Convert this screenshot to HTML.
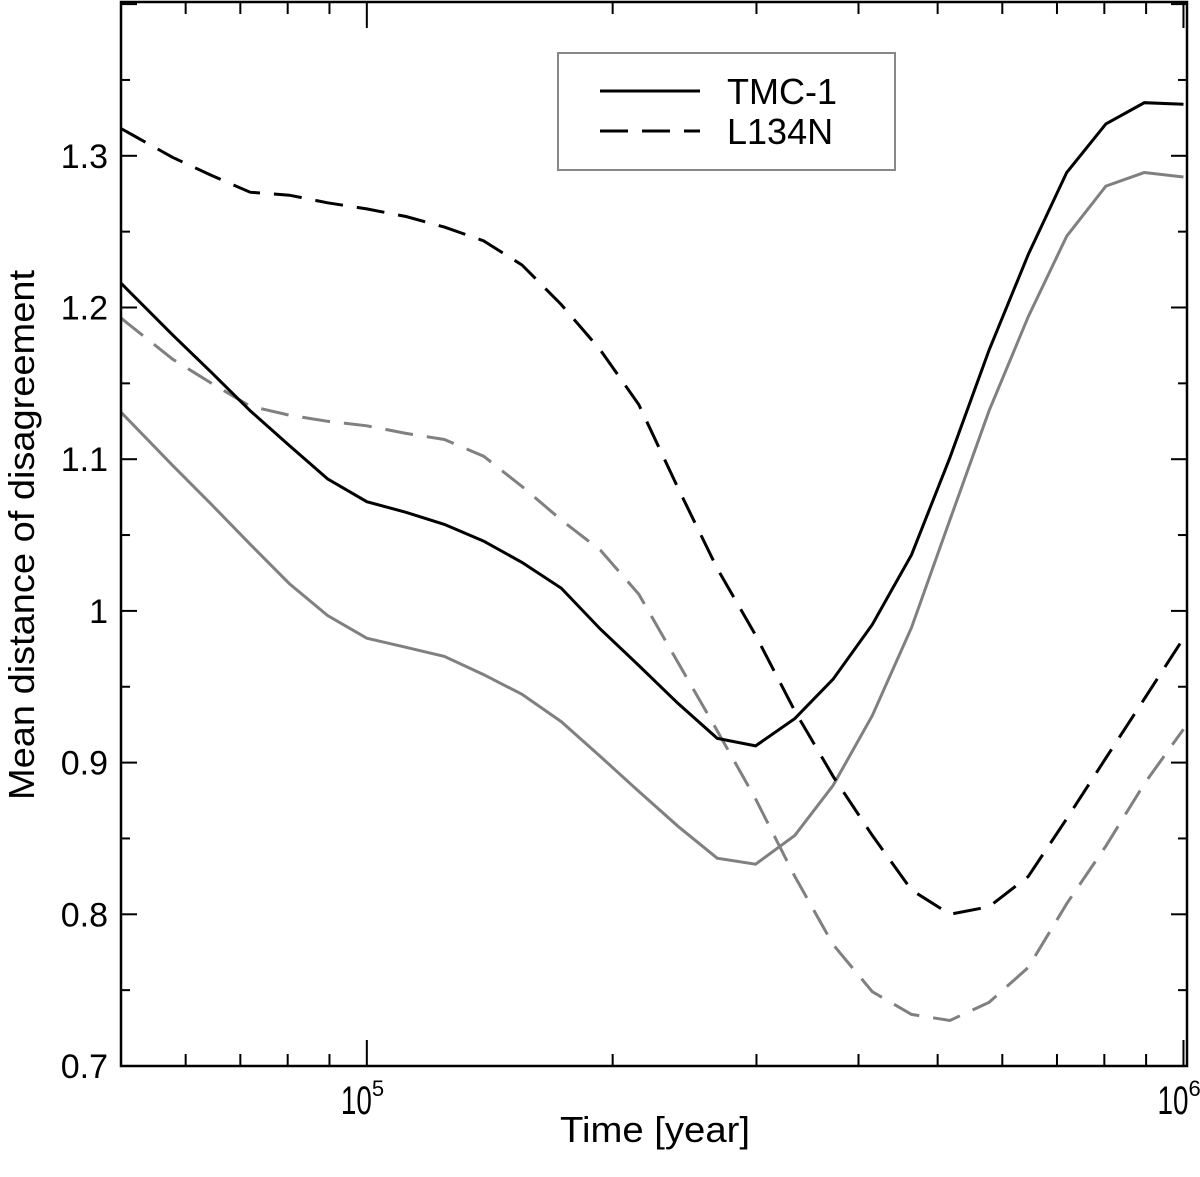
<!DOCTYPE html>
<html><head><meta charset="utf-8"><style>
body{margin:0;background:#fff;}
svg{display:block;font-family:"Liberation Sans",sans-serif;}
</style></head><body>
<svg id="chart" width="1200" height="1177" viewBox="0 0 1200 1177" xmlns="http://www.w3.org/2000/svg">
<g id="ticks"></g>
<g id="series"></g>
<rect x="121" y="2" width="1066" height="1064" fill="none" stroke="#000" stroke-width="2.5"/>
<g id="labels" font-size="34"></g>
<text x="655" y="1142" font-size="36" text-anchor="middle" textLength="190" lengthAdjust="spacingAndGlyphs">Time [year]</text>
<text transform="translate(34,535) rotate(-90)" font-size="36" text-anchor="middle" textLength="530" lengthAdjust="spacingAndGlyphs">Mean distance of disagreement</text>
<g>
<rect x="558" y="53" width="337" height="117" fill="#fff" stroke="#888" stroke-width="2"/>
<line x1="600" y1="91" x2="700" y2="91" stroke="#000" stroke-width="3"/>
<text x="727" y="104" font-size="36">TMC-1</text>
<line x1="600" y1="131" x2="700" y2="131" stroke="#000" stroke-width="3" stroke-dasharray="28,14"/>
<text x="727" y="144" font-size="36">L134N</text>
</g>
</svg>
<script>
const logTimes = [4.699,4.762,4.810,4.857,4.905,4.952,5.000,5.048,5.095,5.143,5.190,5.238,5.286,5.333,5.381,5.429,5.476,5.524,5.571,5.619,5.667,5.714,5.762,5.810,5.857,5.905,5.952,6.000];
const tmcBlack = [1.216,1.182,1.157,1.132,1.109,1.087,1.072,1.065,1.057,1.046,1.032,1.015,0.988,0.964,0.939,0.916,0.911,0.929,0.955,0.991,1.037,1.101,1.172,1.235,1.289,1.321,1.335,1.334];
const tmcGray = [1.131,1.096,1.070,1.044,1.018,0.997,0.982,0.976,0.970,0.958,0.945,0.927,0.904,0.881,0.858,0.837,0.833,0.852,0.885,0.931,0.989,1.060,1.132,1.194,1.247,1.280,1.289,1.286];
const l134Black = [1.318,1.299,1.287,1.276,1.274,1.269,1.265,1.260,1.253,1.244,1.228,1.202,1.172,1.136,1.081,1.028,0.984,0.934,0.891,0.852,0.816,0.800,0.805,0.825,0.863,0.903,0.942,0.982];
const l134Gray = [1.193,1.166,1.150,1.135,1.129,1.125,1.122,1.117,1.113,1.102,1.082,1.060,1.040,1.011,0.966,0.921,0.876,0.825,0.780,0.749,0.734,0.730,0.742,0.765,0.807,0.845,0.886,0.922];
const yTickLabels = ["0.7","0.8","0.9","1","1.1","1.2","1.3"];
const yTickValues = [0.7,0.8,0.9,1.0,1.1,1.2,1.3];
const xTickExps = [5,6];

const X0=121,X1=1187,Y0=1066,Y1=2;
const LMIN=Math.log10(5e4), LMAX=Math.log10(1.01e6);
function xs(l){return X0+(l-LMIN)/(LMAX-LMIN)*(X1-X0);}
function ys(v){return Y0-(v-0.7)/0.1*151.7;}
const NS="http://www.w3.org/2000/svg";
const tg=document.getElementById('ticks'), sg=document.getElementById('series'), lg=document.getElementById('labels');
function ln(x1,y1,x2,y2,name){
  const l=document.createElementNS(NS,'line');
  l.setAttribute('x1',x1);l.setAttribute('y1',y1);l.setAttribute('x2',x2);l.setAttribute('y2',y2);
  l.setAttribute('stroke','#000');l.setAttribute('stroke-width','2');
  
  
  tg.appendChild(l);
}
for(let v=0.7;v<1.401;v+=0.05){
  const y=ys(v); const major=Math.abs(Math.round(v*10)-v*10)<0.01; const len=major?16:9;
  ln(X0,y,X0+len,y,'y-tick');ln(X1-len,y,X1,y,'y-tick');
}
yTickValues.forEach((v,i)=>{
  const t=document.createElementNS(NS,'text');
  t.setAttribute('x',108);t.setAttribute('y',ys(v)+12);t.setAttribute('text-anchor','end');
  t.textContent=yTickLabels[i];
  
  
  lg.appendChild(t);
});
for(let d=4;d<=6;d++){for(let m=1;m<=9;m++){
  const l=d+Math.log10(m); if(l<LMIN-1e-6||l>LMAX) continue;
  const x=xs(l); const len=m===1?26:12;
  ln(x,Y0,x,Y0-len,'x-tick');ln(x,Y1,x,Y1+len,'x-tick');
}}
xTickExps.forEach(e=>{
  const t=document.createElementNS(NS,'text');
  t.setAttribute('x',xs(e)-26);t.setAttribute('y',1114);
  t.setAttribute('font-size','40');
  t.innerHTML='<tspan textLength="31" lengthAdjust="spacingAndGlyphs">10</tspan><tspan font-size="22" dy="-18">'+e+'</tspan>';
  
  
  lg.appendChild(t);
});
function series(vals,color,dash,name){
  const p=document.createElementNS(NS,'polyline');
  p.setAttribute('points',vals.map((v,i)=>xs(logTimes[i]).toFixed(1)+','+ys(v).toFixed(1)).join(' '));
  p.setAttribute('fill','none');p.setAttribute('stroke',color);p.setAttribute('stroke-width','3');
  if(dash)p.setAttribute('stroke-dasharray','28,14');
  
  
  sg.appendChild(p);
}
series(tmcGray,'#808080',false,'tmc1-gray-line');
series(l134Gray,'#808080',true,'l134n-gray-line');
series(tmcBlack,'#000',false,'tmc1-black-line');
series(l134Black,'#000',true,'l134n-black-line');
</script>
</body></html>
